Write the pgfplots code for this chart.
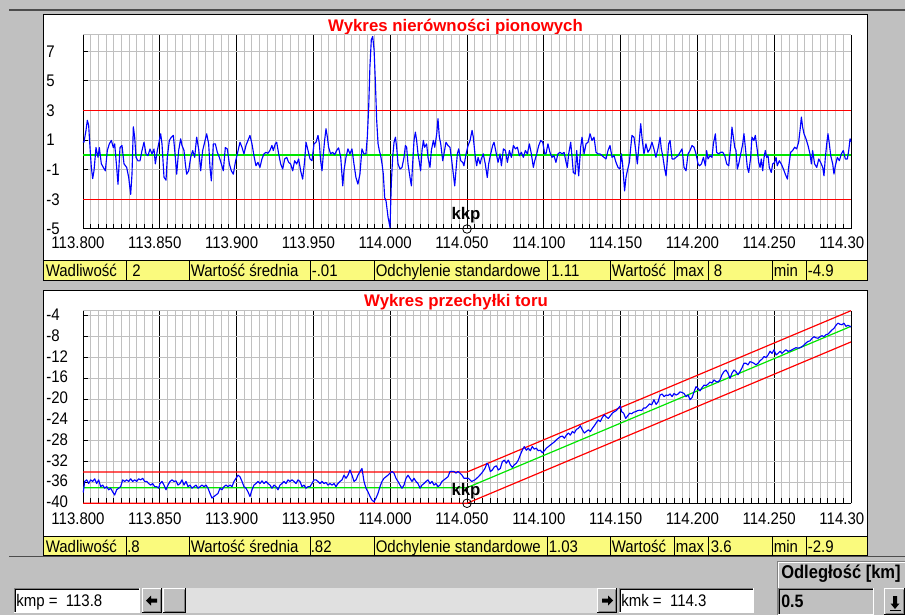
\documentclass[border=0pt]{standalone}
\usepackage{pgfplots}
\pgfplotsset{compat=1.18}
\usepackage{fontspec}
\setmainfont{Liberation Sans}
\usepackage{graphicx}
\definecolor{wgray}{RGB}{192,192,192}
\definecolor{gridg}{RGB}{192,192,192}
\definecolor{infoy}{RGB}{250,250,125}
\definecolor{dgray}{RGB}{128,128,128}
\definecolor{track}{RGB}{224,224,224}
\definecolor{pblue}{RGB}{0,0,255}
\definecolor{pgreen}{RGB}{0,230,0}
\definecolor{pred}{RGB}{255,0,0}
\newcommand\fs{\fontsize{11.25}{13}\selectfont}
\newcommand\T[1]{\scalebox{1}[1.12]{#1}}
\pgfplotsset{
 railaxis/.style={
  scale only axis, width=576pt,
  xmin=0, xmax=500,
  axis x line*=bottom, axis y line*=left,
  axis line style={black, line width=0.75pt},
  xtick={0,50,...,500},
  xticklabels={\T{113.800},\T{113.850},\T{113.900},\T{113.950},\T{114.000},\T{114.050},\T{114.100},\T{114.150},\T{114.200},\T{114.250},\T{114.30\phantom{0}}},
  minor x tick num=9,
  tick align=inside,
  major tick length=4pt, minor tick length=3.75pt,
  tick style={black, line width=0.75pt},
  xmajorgrids, xminorgrids, ymajorgrids,
  major x grid style={black, line width=0.75pt},
  minor x grid style={gridg, line width=0.75pt},
  major y grid style={gridg, line width=0.75pt},
  tick label style={font=\fs, inner sep=0pt},
  xticklabel style={anchor=north, yshift=-6pt, xshift=-3.75pt},
  yticklabel style={anchor=west, xshift=-27.75pt},
  clip=false,
 }
}
\newcommand\btn[4]{%
 \fill[wgray] (#1,#2) rectangle (#3,#4);
 \draw[white,line width=0.75pt] (#1+0.5,#2+1) -- (#1+0.5,#4-0.5) -- (#3-1,#4-0.5);
 \draw[black,line width=0.75pt] (#1,#2+0.5) -- (#3-0.5,#2+0.5) -- (#3-0.5,#4);
 \draw[dgray,line width=0.75pt] (#1+1.5,#2+1.5) -- (#3-1.5,#2+1.5) -- (#3-1.5,#4-1.5);}
\newcommand\sunk[4]{%
 \draw[dgray,line width=0.75pt] (#1+0.5,#2) -- (#1+0.5,#4-0.5) -- (#3,#4-0.5);
 \draw[black,line width=0.75pt] (#1+1.5,#2+1) -- (#1+1.5,#4-1.5) -- (#3-1,#4-1.5);
 \draw[white,line width=0.75pt] (#1,#2+0.5) -- (#3-0.5,#2+0.5) -- (#3-0.5,#4);}
\begin{document}
\begin{tikzpicture}[x=0.75pt,y=0.75pt]
\useasboundingbox (0,0) rectangle (905,615);
\fill[wgray] (0,0) rectangle (905,615);
\draw[black!70,line width=1.5pt] (9,604.5) -- (905,604.5);
\draw[black!70,line width=0.75pt] (9,59) -- (905,59);
% panels
\fill[white] (43,335) rectangle (867,600);
\fill[infoy] (43,335) rectangle (867,355);
\draw[black,line width=0.75pt] (43,335) rectangle (867,600);
\draw[black,line width=0.75pt] (43,355) -- (867,355);
\fill[white] (43,60) rectangle (867,325);
\fill[infoy] (43,60) rectangle (867,79);
\draw[black,line width=0.75pt] (43,60) rectangle (867,325);
\draw[black,line width=0.75pt] (43,79) -- (867,79);
\foreach \xx in {126,189.3,310.7,374,547.3,610.7,674.3,708.7,772,806.7}{
 \draw[black,line width=0.75pt] (\xx,335) -- (\xx,355);
 \draw[black,line width=0.75pt] (\xx,60) -- (\xx,79);}
% info texts
\begin{scope}[every node/.style={anchor=base west, inner sep=0pt, font=\fs}]
\node at (45.5,338.5) {\T{Wadliwość}};
\node at (132,338.5) {\T{2}};
\node at (190.5,338.5) {\T{Wartość średnia}};
\node at (311.5,338.5) {\T{-.01}};
\node at (375.5,338.5) {\T{Odchylenie standardowe}};
\node at (551,338.5) {\T{1.11}};
\node at (611.5,338.5) {\T{Wartość}};
\node at (675.5,338.5) {\T{max}};
\node at (713.5,338.5) {\T{8}};
\node at (773.5,338.5) {\T{min}};
\node at (807.5,338.5) {\T{-4.9}};
\node at (45.5,62.5) {\T{Wadliwość}};
\node at (127,62.5) {\T{.8}};
\node at (190.5,62.5) {\T{Wartość średnia}};
\node at (310.5,62.5) {\T{.82}};
\node at (375.5,62.5) {\T{Odchylenie standardowe}};
\node at (548.5,62.5) {\T{1.03}};
\node at (611.5,62.5) {\T{Wartość}};
\node at (675.5,62.5) {\T{max}};
\node at (710.5,62.5) {\T{3.6}};
\node at (773.5,62.5) {\T{min}};
\node at (807.5,62.5) {\T{-2.9}};
\end{scope}
% titles
\node[anchor=base, inner sep=0pt, text=pred, font=\bfseries\fontsize{12.6}{15}\selectfont] at (455.5,583) {Wykres nierówności pionowych};
\node[anchor=base, inner sep=0pt, text=pred, font=\bfseries\fontsize{12.6}{15}\selectfont] at (456,309) {Wykres przechyłki toru};
% ---------- top chart
\begin{axis}[railaxis, at={(62.25pt,289.5pt)}, anchor=south west, height=145.5pt,
  ymin=-5, ymax=8.1, ytick={-5,-3,-1,1,3,5,7},
  yticklabels={\T{-5},\T{-3},\T{-1},\T{1},\T{3},\T{5},\T{7}}]
\draw[gridg,line width=0.75pt] (rel axis cs:0,1) -- (rel axis cs:1,1);
\addplot[pred, line width=0.9pt] coordinates {(0,3) (500,3)};
\addplot[pred, line width=0.9pt] coordinates {(0,-3) (500,-3)};
\addplot[pgreen, line width=0.9pt] coordinates {(0,0) (500,0)};
\addplot[pblue, line width=0.85pt, line join=round] coordinates {
(0,0.9) (0.65,0.86) (1.95,1.66) (2.82,2.34) (3.69,2.0) (4.56,0.5) (5.43,-0.84) (6.29,-1.6) (7.16,-1.07) (8.46,0.5)
(9.77,-0.16) (10.63,0.5) (11.94,-0.6) (13.24,-0.84) (14.54,-1.07) (15.84,0.3) (17.14,0.75) (18.45,0.98) (19.75,0.5) (20.62,0.75)
(21.92,-0.84) (22.79,-1.98) (24.09,0.5) (25.39,0.64) (26.69,-0.6) (28.43,-0.84) (29.73,-1.5) (31.03,-2.66) (31.90,-1.3) (32.77,1.9)
(33.64,1.2) (34.51,-0.16) (35.81,-0.4) (37.11,-0.4) (38.41,0.3) (39.71,0.86) (41.02,0.07) (42.32,-0.05) (43.62,0.4) (44.92,0.07)
(46.22,0.4) (47.09,-0.6) (48.39,0.3) (49.70,0.98) (50.56,1.43) (51.43,0.75) (52.73,-1.5) (54.04,-1.7) (54.90,-0.16) (56.21,0.98)
(57.51,1.2) (58.81,1.32) (60.11,-0.16) (60.98,-1.3) (62.28,0.3) (63.58,1.09) (64.45,0.64) (65.75,0.3) (66.62,-0.6) (67.49,-1.3)
(68.79,-1.07) (70.09,-0.16) (71.40,0.3) (72.70,-0.16) (74.00,1.2) (75.30,0.4) (76.60,-1.07) (77.91,0.3) (79.21,0.86) (80.51,1.43)
(81.81,0.75) (82.68,-0.84) (83.55,-1.75) (84.85,0.75) (86.15,0.75) (87.45,0.18) (88.76,-0.16) (90.06,-0.6) (91.36,-1.07) (92.66,0.5)
(93.96,0.4) (95.27,-0.6) (96.57,-1.07) (97.87,-1.3) (99.17,-0.5) (100.48,0.07)
(102.2,0.86) (103.5,0.52) (104.8,0.07) (106.1,0.64) (107.4,0.98) (108.7,1.32) (110.0,0.75) (111.3,-0.05) (112.6,-0.73) (113.9,-0.5)
(115.2,-0.84) (116.5,-0.27) (117.8,0.07) (119.1,0.18) (120.4,0.11) (121.7,0.3) (123.0,0.64) (123.9,0.3) (125.2,0.75) (126.1,0.86)
(127.4,0.07) (128.7,-0.61) (130.0,-0.95) (131.3,-0.27) (132.6,-0.16) (133.9,-0.5) (135.2,-0.61) (136.5,-1.07) (137.8,-0.39) (139.1,-0.61)
(140.4,-0.27) (141.7,-1.07) (143.0,-1.63) (144.3,-0.39) (145.2,0.86) (146.5,0.3) (147.8,-0.27) (149.1,-0.39) (150.4,0.75) (151.7,0.86)
(153.0,1.32) (153.9,0.75) (154.7,-0.39) (155.6,-1.07) (156.5,0.07) (157.3,0.98) (158.2,1.77) (159.1,1.2) (159.9,0.52) (161.2,0.07)
(162.5,0.18) (163.8,0.02) (165.1,0.3) (166.4,0.48) (167.8,-0.16) (169.1,-2.09) (169.9,-1.07) (171.2,-0.16) (172.5,0.41) (173.8,0.07)
(175.1,0.41) (176.4,-0.61) (177.7,-1.52) (179.0,-1.97) (180.3,-1.29) (181.6,0.41) (182.9,0.07) (184.2,0.07) (185.1,1.2) (186.0,3.24)
(186.8,5.96) (187.7,7.78) (188.6,8.0) (189.5,7.1) (190.3,5.06) (191.2,2.34) (192.1,0.75) (192.9,0.3) (193.8,-0.05) (194.7,-0.61)
(195.5,-1.29) (196.4,-2.88) (197.3,-3.11) (198.6,-4.2) (199.9,-4.9)
(200.7,-1.97) (201.6,-0.16) (202.5,0.86) (203.4,1.2) (204.2,0.52) (205.1,-0.61) (206.4,-0.95) (207.7,-0.84) (209.0,-0.16) (209.9,0.64)
(210.7,0.52) (211.6,-0.61) (212.9,-1.52) (213.8,-2.09) (214.6,-0.61) (215.5,0.98) (216.4,1.54) (217.2,0.98) (218.1,0.07) (219.0,-0.5)
(219.8,-1.07) (220.7,0.3) (221.6,0.98) (222.4,0.52) (223.7,0.75) (224.6,-0.16) (225.9,-0.84) (226.8,0.3) (228.1,0.98) (229.0,0.52)
(230.3,1.43) (231.1,2.45) (232.0,1.2) (232.9,0.75) (234.2,-0.39) (235.0,0.07) (236.3,0.86) (237.6,0.64) (238.9,0.52) (239.8,-0.16)
(241.1,-1.29) (242.0,-2.09) (242.8,-1.07) (243.7,0.07) (244.6,0.41) (245.9,-0.39) (247.2,-0.5) (248.0,-0.73) (249.4,0.07) (250.7,0.64)
(252.0,0.98) (253.3,1.66) (254.1,1.2) (255.4,-0.16) (256.3,-0.73) (257.2,-0.16) (258.5,-0.61) (259.3,-0.27) (260.6,0.07) (261.9,-0.61)
(263.2,-1.52) (264.1,-0.61) (265.4,0.07) (266.7,0.64) (267.6,0.86) (268.9,0.18) (270.2,-0.5) (271.5,0.07) (272.4,-0.73) (273.7,0.41)
(275.0,0.3) (276.3,-0.5) (277.6,0.3) (278.9,-0.16) (280.2,0.64) (281.5,0.41) (282.8,0.52) (284.1,-0.05) (285.4,0.18) (286.7,-0.16)
(288.0,0.3) (289.3,0.07) (290.6,0.75) (291.9,0.07) (293.2,-0.84) (294.1,-0.39) (295.4,0.07) (296.7,0.64) (298.0,0.98) (299.3,0.86)
(300.6,0.07)
(301.4,0.07) (302.7,0.75) (304.0,0.18) (305.3,-0.16) (306.6,-0.05) (307.9,-0.5) (309.2,0.07) (310.5,0.18) (311.9,0.07) (313.2,0.18)
(314.5,-0.5) (315.3,-0.84) (316.2,0.07) (317.5,0.86) (318.4,-0.16) (319.2,-1.18) (320.5,-1.29) (321.4,0.3) (322.7,-1.41) (324.0,0.52)
(324.9,1.2) (326.2,0.07) (327.5,0.75) (328.8,0.86) (330.1,1.43) (331.4,0.98) (332.7,1.2) (334.0,0.18) (335.3,0.07) (336.6,0.07)
(337.9,-0.05) (339.2,-0.16) (340.5,-0.27) (341.8,0.3) (343.1,0.64) (344.4,-0.16) (345.7,-0.05) (347.0,-0.5) (348.3,-0.84) (349.6,-0.95)
(350.5,0.07) (351.3,-0.61) (352.6,-2.43) (353.5,-1.52) (354.4,-1.07) (355.7,-0.5) (356.6,0.52) (357.4,1.32) (358.7,1.2) (359.6,0.52)
(360.9,-0.61) (362.2,0.98) (363.1,2.11) (363.9,1.2) (365.2,0.07) (366.5,0.75) (367.8,0.18) (369.1,0.41) (370.4,0.86) (371.7,0.41)
(373.0,-0.16) (374.3,0.41) (375.7,1.2) (376.5,0.41) (377.4,-0.05) (378.7,-0.95) (379.6,-1.41) (380.4,-0.39) (381.3,0.75) (382.2,0.98)
(383.5,-0.27) (384.8,-0.27) (386.1,-0.16) (387.4,-0.05) (388.7,0.18) (390.0,0.41) (391.3,-0.84) (392.6,-1.07) (393.9,0.07) (395.2,0.3)
(396.5,0.64) (397.8,0.52) (399.1,0.07) (400.4,-0.61)
(401.3,-0.73) (402.6,-0.61) (403.9,-0.16) (405.2,-0.73) (406.0,0.3) (406.9,-0.27) (408.2,-0.05) (409.5,-0.16) (410.4,0.75) (411.7,1.43)
(412.5,0.18) (413.8,0.07) (415.1,0.18) (416.5,0.18) (417.8,-0.05) (419.1,-0.61) (420.4,-0.73) (421.7,0.64) (422.5,1.88) (423.4,1.2)
(424.3,0.52) (425.1,0.3) (426.0,-0.95) (426.9,-0.61) (428.2,0.07) (429.5,0.75) (430.3,1.43) (431.2,0.52) (432.5,-0.84) (433.4,-1.18)
(434.7,-0.16) (435.5,1.2) (436.8,0.98) (437.7,1.32) (439.0,0.3) (439.9,-0.5) (440.8,-0.84) (441.6,-0.27) (442.5,-1.07) (443.4,-0.16)
(444.2,0.3) (445.1,-0.16) (446.0,-0.05) (446.8,-0.84) (448.1,-1.18) (449.0,-0.61) (450.3,-0.5) (451.2,-0.16) (452.0,-0.73) (453.3,-0.39)
(454.6,-0.61) (456.0,-0.95) (457.2,-1.29) (458.6,-1.63) (459.4,-0.84) (460.7,0.18) (462.0,0.3) (463.3,0.52) (464.6,0.41) (465.9,0.86)
(466.8,1.66) (467.7,2.56) (468.5,1.88) (469.4,1.43) (470.7,1.09) (472.0,0.64) (473.3,0.07) (474.2,-0.61) (475.0,0.3) (476.3,-0.61)
(477.7,-0.84) (479.0,-0.27) (480.2,-0.5) (481.6,-0.84) (482.4,-1.41) (483.3,-0.16) (484.2,0.75) (485.0,1.43) (485.9,0.75) (486.8,-0.05)
(488.1,-0.61) (488.9,-1.29) (489.8,-0.73) (491.1,-0.16) (492.4,-0.39) (493.7,0.07) (495.0,0.3) (496.3,-0.27) (497.6,-0.27) (498.5,0.3)
(499.4,1.09) (500,0.9)};
\addplot[black, only marks, mark=o, mark size=3.2pt, mark options={line width=0.6pt}] coordinates {(250,-5)};
\node[anchor=base, inner sep=0pt, font=\bfseries\fontsize{12.6}{15}\selectfont, yshift=6.75pt, xshift=-0.75pt] at (axis cs:250,-5) {kkp};
\end{axis}
% ---------- bottom chart
\begin{axis}[railaxis, at={(62.25pt,83.78pt)}, anchor=south west, height=144.45pt,
  ymin=-40, ymax=-3, ytick={-40,-36,...,-4},
  xticklabel style={yshift=-0.9pt},
  yticklabel style={yshift=1pt},
  yticklabels={\T{-40},\T{-36},\T{-32},\T{-28},\T{-24},\T{-20},\T{-16},\T{-12},\T{-8},\T{-4}}]
\draw[gridg,line width=0.75pt] (rel axis cs:0,1) -- (rel axis cs:1,1);
\addplot[pred, line width=0.9pt] coordinates {(0,-34) (250,-34) (500,-3)};
\addplot[pred, line width=0.9pt] coordinates {(0,-40) (250,-40) (500,-9)};
\addplot[pgreen, line width=0.9pt] coordinates {(0,-37) (250,-37) (500,-6)};
\addplot[pblue, line width=0.85pt, line join=round] coordinates {
(0,-37.9) (0.22,-37.8) (1.09,-35.8) (2.39,-35.5) (3.69,-36.2) (4.99,-35.5) (6.29,-35.8) (7.60,-35.3) (8.90,-36.2) (10.20,-35.5)
(11.50,-36.8) (12.80,-36.5) (14.11,-37.1) (15.41,-36.8) (16.71,-37.4) (18.01,-37.1) (19.31,-37.8) (20.62,-38.4) (21.92,-37.4) (23.22,-37.1)
(24.52,-36.8) (25.82,-35.5) (27.13,-35.8) (28.43,-35.5) (29.73,-35.8) (31.03,-35.3) (32.33,-35.8) (33.64,-35.5) (34.94,-35.8) (36.24,-35.3)
(37.54,-35.5) (38.84,-35.2) (40.15,-35.8) (41.45,-35.8) (42.75,-36.2) (44.05,-36.5) (45.35,-36.2) (46.66,-36.8) (47.96,-36.8) (49.26,-37.1)
(50.13,-36.2) (51.43,-35.8) (52.73,-36.5) (54.04,-37.4) (55.34,-36.5) (56.64,-35.8) (57.94,-35.5) (59.24,-35.8) (60.55,-35.7) (61.85,-36.5)
(63.15,-36.2) (64.45,-35.5) (65.75,-36.5) (67.06,-35.8) (68.36,-36.8) (69.66,-36.5) (70.96,-37.1) (72.26,-36.8) (73.57,-36.5) (74.87,-37.1)
(76.17,-36.8) (77.47,-36.5) (78.77,-36.8) (80.08,-36.5) (81.38,-37.1) (82.68,-38.1) (83.98,-39.0) (85.28,-38.7) (86.59,-38.4) (87.89,-38.1)
(89.19,-37.1) (90.49,-37.4) (91.79,-36.8) (93.10,-36.5) (94.40,-36.8) (95.70,-36.5) (97.00,-36.8) (98.31,-35.8) (99.61,-35.2) (100.91,-34.6)
(102.21,-34.9) (103.51,-35.8) (104.82,-36.8) (106.12,-37.1) (107.42,-37.8) (108.72,-38.7) (110.02,-37.4) (111.33,-36.5) (112.63,-36.2) (113.93,-35.8)
(115.23,-36.2) (116.53,-35.7) (117.84,-36.2) (119.14,-35.8) (120.44,-36.2) (121.74,-36.5) (123.04,-37.1) (124.35,-36.5) (125.65,-36.8) (126.95,-37.4)
(128.25,-36.5) (129.56,-36.2) (130.86,-35.8) (132.16,-36.2) (133.46,-35.5) (134.76,-35.8) (136.07,-35.5) (137.37,-35.8) (138.67,-36.2) (139.97,-35.5)
(141.27,-35.8) (142.58,-36.8) (143.88,-36.5) (145.18,-37.1) (146.48,-36.8) (147.78,-36.8) (149.09,-36.2) (150.39,-35.5) (151.69,-35.5) (152.99,-35.8)
(154.29,-36.2) (155.60,-35.8) (156.90,-36.2) (158.20,-36.0) (159.50,-36.5) (160.80,-36.2) (162.11,-36.5) (163.41,-36.2) (164.71,-36.8) (166.01,-36.2)
(167.31,-35.8) (168.62,-35.5) (169.92,-34.6) (171.22,-35.2) (172.52,-34.6) (173.82,-33.6) (175.13,-34.6) (176.43,-35.8) (177.73,-35.5) (179.03,-34.6)
(180.33,-33.9) (181.64,-33.3) (182.94,-35.8) (184.24,-37.1) (185.54,-37.8) (186.85,-38.7) (188.15,-39.4) (189.45,-39.7) (190.75,-39.0) (192.05,-38.1)
(193.36,-36.8) (194.66,-35.8) (195.96,-35.2) (197.26,-34.9) (198.56,-34.6) (199.87,-34.2) (201.17,-33.9) (202.47,-34.2) (203.77,-35.2) (205.07,-35.8)
(206.38,-36.5) (207.68,-37.1) (208.98,-36.5) (210.28,-35.2) (211.58,-34.6) (212.89,-35.2) (214.19,-35.8) (215.49,-35.2) (216.79,-35.8) (218.09,-36.2)
(219.40,-37.1) (220.70,-36.5) (222.00,-36.2) (223.30,-35.8) (224.60,-35.5) (225.91,-36.2) (227.21,-35.8) (228.51,-36.5) (229.81,-36.2) (231.11,-36.8)
(232.42,-36.5) (233.72,-35.8) (235.02,-35.5) (236.32,-35.2) (237.62,-34.9) (238.93,-33.9) (240.23,-33.9) (241.53,-33.9) (242.83,-34.2) (244.14,-33.9)
(245.44,-34.2) (246.74,-34.6) (248.04,-35.2)
(250.9,-35.2) (253.0,-35.8) (255.2,-35.5) (257.4,-34.9) (259.6,-34.2) (261.7,-33.3) (263.0,-32.3) (263.9,-32.6) (265.2,-33.9) (266.5,-33.6)
(267.8,-33.0) (269.1,-32.8) (270.4,-33.6) (271.7,-33.3) (273.0,-32.0) (274.3,-31.7) (275.6,-32.3) (276.9,-31.7) (278.2,-32.6) (279.5,-33.1)
(280.8,-32.6) (282.1,-32.3) (283.4,-31.7) (284.7,-30.7) (286.0,-29.8) (287.3,-29.1) (288.6,-29.8) (289.9,-29.4) (291.2,-29.9) (292.5,-29.1)
(293.8,-29.6) (295.1,-29.4) (296.4,-29.9) (297.7,-29.8) (299.1,-30.3) (300.4,-29.9) (301.7,-29.4) (303.0,-29.1) (304.3,-28.8) (305.6,-28.5)
(306.9,-28.2) (308.2,-27.8) (309.5,-27.5) (310.8,-27.2) (312.1,-27.1) (313.4,-27.5) (314.7,-26.9) (316.0,-26.5) (317.3,-26.9) (318.6,-26.2)
(319.9,-26.5) (321.2,-25.8) (322.5,-25.6) (323.8,-25.1) (325.1,-25.9) (326.4,-26.5) (327.7,-26.2) (329.0,-25.9) (330.3,-26.2) (331.6,-25.6)
(332.9,-25.1) (334.2,-24.5) (335.5,-24.0) (336.8,-24.3) (338.1,-23.5) (339.4,-23.0) (340.7,-23.4) (342.0,-23.7) (343.3,-23.2) (344.6,-22.7)
(345.9,-22.4) (347.2,-22.2) (348.5,-21.7) (349.8,-21.3) (350.7,-22.4) (352.0,-22.7) (353.3,-23.7) (354.6,-23.2) (355.9,-22.7) (357.2,-22.8)
(358.5,-22.5) (359.8,-22.4) (361.1,-22.2) (362.4,-22.1) (363.7,-22.2) (365.0,-21.7) (366.3,-21.7) (367.6,-21.3) (368.9,-20.9) (370.2,-21.1)
(371.7,-20.1) (373.1,-21.0) (374.4,-20.5) (375.7,-19.2) (377.0,-19.0) (378.3,-19.5) (379.6,-19.2) (380.9,-19.3) (382.2,-19.0) (383.5,-19.5)
(384.8,-18.9) (386.1,-19.2) (387.4,-19.0) (388.7,-18.6) (390.0,-18.7) (391.3,-18.9) (392.6,-19.5) (393.9,-19.2) (395.2,-20.1) (396.5,-19.7)
(397.8,-18.6) (399.1,-17.6) (400.4,-17.9) (401.7,-18.4) (403.0,-17.8) (404.3,-17.3) (405.6,-17.4) (406.9,-17.1) (408.2,-16.7) (409.5,-16.9)
(410.8,-16.3) (412.1,-16.6) (413.4,-16.7) (414.7,-16.3) (416.0,-15.3) (417.3,-14.7) (418.6,-14.4) (419.9,-15.0) (421.2,-16.0) (422.5,-15.0)
(423.8,-14.4) (425.1,-14.7) (426.4,-15.3) (427.7,-14.7) (429.0,-14.0) (430.3,-13.1) (431.6,-13.1) (432.9,-13.4) (434.2,-12.8) (435.5,-12.9)
(436.8,-13.1) (438.1,-13.4) (439.5,-13.1) (440.8,-12.6) (442.1,-12.3) (443.4,-11.8) (444.7,-12.0) (446.0,-11.5) (447.3,-10.8) (448.6,-11.2)
(449.9,-10.5) (451.2,-11.5) (452.5,-11.2) (453.8,-10.8) (455.1,-11.2) (456.4,-10.8) (457.7,-10.5) (459.0,-10.8) (460.3,-10.7) (461.6,-10.5)
(462.9,-10.3) (464.2,-10.1) (465.5,-10.2) (466.8,-10.1) (468.1,-9.9) (469.4,-9.6) (470.7,-9.2) (472.0,-8.9) (473.3,-8.8) (474.6,-8.3)
(475.9,-8.0) (477.2,-8.2) (478.5,-8.3) (479.8,-8.0) (481.1,-7.8) (482.4,-8.0) (483.7,-7.6) (485.0,-7.5) (486.3,-7.1) (487.6,-6.7)
(488.9,-6.4) (490.2,-5.8) (491.5,-5.4) (492.8,-5.6) (494.1,-5.7) (495.4,-5.4) (496.7,-6.0) (498.0,-5.8) (500,-6.1)};
\addplot[black, only marks, mark=o, mark size=3.2pt, mark options={line width=0.6pt}] coordinates {(250,-40)};
\node[anchor=base, inner sep=0pt, font=\bfseries\fontsize{12.6}{15}\selectfont, yshift=6.2pt, xshift=-0.75pt] at (axis cs:250,-40) {kkp};
\end{axis}
% ---------- bottom controls
\fill[white] (14,2) rectangle (140,27);
\sunk{14}{2}{140}{27}
\node[anchor=base west, inner sep=0pt, font=\fs] at (16,9) {\T{kmp =\ \ 113.8}};
\fill[track] (162,2) rectangle (597,27);
\btn{142}{2}{162}{27}
\fill[black] (146,14.5) -- (151,19.5) -- (151,16.5) -- (157,16.5) -- (157,12.5) -- (151,12.5) -- (151,9.5) -- cycle;
\btn{163}{2}{186}{27}
\btn{597}{2}{617}{27}
\fill[black] (613,14.5) -- (608,19.5) -- (608,16.5) -- (602,16.5) -- (602,12.5) -- (608,12.5) -- (608,9.5) -- cycle;
\fill[white] (619,2) rectangle (754,27);
\sunk{619}{2}{754}{27}
\node[anchor=base west, inner sep=0pt, font=\fs] at (621,9) {\T{kmk =\ \ 114.3}};
% group box
\draw[dgray,line width=0.75pt] (777.5,0) -- (777.5,53.5) -- (905,53.5);
\draw[white,line width=0.75pt] (778.5,0) -- (778.5,52.5) -- (905,52.5);
\node[anchor=base west, inner sep=0pt, font=\bfseries\fontsize{12.4}{15}\selectfont] at (781,37) {\T{Odległość [km]}};
\sunk{778}{0}{874}{27}
\node[anchor=base west, inner sep=0pt, font=\bfseries\fontsize{12}{15}\selectfont] at (781,8) {\T{0.5}};
\btn{884}{0}{905}{27}
\fill[black] (895,6) -- (899.5,11.5) -- (897,11.5) -- (897,19) -- (893,19) -- (893,11.5) -- (890.5,11.5) -- cycle;
\fill[black] (889.5,4) rectangle (900.5,5.5);
\end{tikzpicture}
\end{document}
